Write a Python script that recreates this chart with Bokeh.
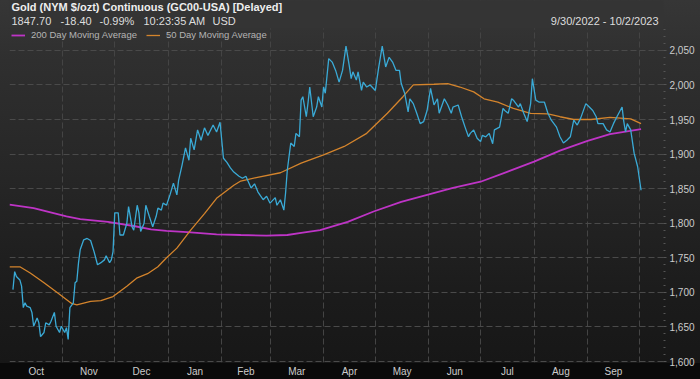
import pandas as pd
from bokeh.plotting import figure
from bokeh.models import (Range1d, NumeralTickFormatter, FixedTicker, BoxAnnotation,
                          MonthsTicker, DatetimeTickFormatter, Label, GlobalInlineStyleSheet)
from bokeh.embed import file_html
from bokeh.resources import INLINE

# ---------------- data ----------------
gold_dates = [
    "2022-10-03", "2022-10-04", "2022-10-05", "2022-10-07", "2022-10-08", "2022-10-09", "2022-10-10",
    "2022-10-11", "2022-10-13", "2022-10-14", "2022-10-15", "2022-10-17", "2022-10-18", "2022-10-19",
    "2022-10-21", "2022-10-22", "2022-10-24", "2022-10-25", "2022-10-27", "2022-10-28", "2022-10-30",
    "2022-10-31", "2022-11-02", "2022-11-03", "2022-11-04", "2022-11-05", "2022-11-07", "2022-11-08",
    "2022-11-09", "2022-11-10", "2022-11-11", "2022-11-13", "2022-11-15", "2022-11-17", "2022-11-19",
    "2022-11-21", "2022-11-23", "2022-11-25", "2022-11-26", "2022-11-28", "2022-11-29", "2022-11-30",
    "2022-12-01", "2022-12-03", "2022-12-04", "2022-12-06", "2022-12-08", "2022-12-09", "2022-12-11",
    "2022-12-12", "2022-12-14", "2022-12-15", "2022-12-16", "2022-12-18", "2022-12-19", "2022-12-21",
    "2022-12-23", "2022-12-25", "2022-12-26", "2022-12-28", "2022-12-29", "2022-12-31", "2023-01-02",
    "2023-01-04", "2023-01-06", "2023-01-07", "2023-01-09", "2023-01-11", "2023-01-13", "2023-01-14",
    "2023-01-16", "2023-01-18", "2023-01-20", "2023-01-22", "2023-01-24", "2023-01-27", "2023-01-29",
    "2023-01-31", "2023-02-02", "2023-02-04", "2023-02-06", "2023-02-08", "2023-02-11", "2023-02-13",
    "2023-02-15", "2023-02-18", "2023-02-20", "2023-02-22", "2023-02-25", "2023-02-27", "2023-03-01",
    "2023-03-04", "2023-03-05", "2023-03-07", "2023-03-09", "2023-03-10", "2023-03-11", "2023-03-13",
    "2023-03-15", "2023-03-16", "2023-03-18", "2023-03-19", "2023-03-20", "2023-03-22", "2023-03-23",
    "2023-03-24", "2023-03-26", "2023-03-28", "2023-03-29", "2023-03-31", "2023-04-01", "2023-04-02",
    "2023-04-04", "2023-04-06", "2023-04-08", "2023-04-10", "2023-04-12", "2023-04-14", "2023-04-16",
    "2023-04-17", "2023-04-18", "2023-04-20", "2023-04-21", "2023-04-23", "2023-04-24", "2023-04-26",
    "2023-04-28", "2023-05-01", "2023-05-03", "2023-05-05", "2023-05-07", "2023-05-09", "2023-05-11",
    "2023-05-13", "2023-05-15", "2023-05-16", "2023-05-18", "2023-05-20", "2023-05-21", "2023-05-23",
    "2023-05-25", "2023-05-27", "2023-05-29", "2023-05-31", "2023-06-02", "2023-06-04", "2023-06-06",
    "2023-06-07", "2023-06-10", "2023-06-12", "2023-06-14", "2023-06-15", "2023-06-18", "2023-06-20",
    "2023-06-22", "2023-06-24", "2023-06-25", "2023-06-27", "2023-06-29", "2023-07-01", "2023-07-02",
    "2023-07-04", "2023-07-06", "2023-07-08", "2023-07-09", "2023-07-12", "2023-07-14", "2023-07-15",
    "2023-07-17", "2023-07-19", "2023-07-20", "2023-07-23", "2023-07-24", "2023-07-26", "2023-07-28",
    "2023-07-30", "2023-07-31", "2023-08-02", "2023-08-04", "2023-08-07", "2023-08-09", "2023-08-11",
    "2023-08-14", "2023-08-16", "2023-08-18", "2023-08-20", "2023-08-22", "2023-08-24", "2023-08-26",
    "2023-08-28", "2023-08-31", "2023-09-02", "2023-09-04", "2023-09-06", "2023-09-07", "2023-09-10",
    "2023-09-12", "2023-09-14", "2023-09-16", "2023-09-18", "2023-09-21", "2023-09-22", "2023-09-23",
    "2023-09-24", "2023-09-26", "2023-09-28", "2023-09-30", "2023-10-02",
]
gold_close = [
    1704, 1730, 1723, 1718, 1709, 1678, 1685, 1680, 1678, 1671, 1651, 1663, 1656, 1636,
    1642, 1656, 1653, 1658, 1671, 1651, 1642, 1651, 1642, 1649, 1632, 1678, 1685, 1714,
    1716, 1743, 1762, 1776, 1778, 1775, 1759, 1740, 1743, 1747, 1753, 1743, 1747, 1759,
    1815, 1815, 1783, 1783, 1800, 1824, 1795, 1790, 1826, 1815, 1788, 1800, 1826, 1810,
    1795, 1810, 1822, 1819, 1829, 1826, 1841, 1858, 1841, 1862, 1884, 1909, 1891, 1923,
    1906, 1935, 1920, 1938, 1927, 1942, 1932, 1946, 1894, 1888, 1880, 1874, 1868, 1865,
    1868, 1851, 1857, 1845, 1834, 1839, 1829, 1837, 1826, 1834, 1819, 1844, 1877, 1916,
    1911, 1930, 1925, 1978, 1983, 1954, 1974, 1997, 1954, 1968, 1983, 1968, 1997, 1988,
    2038, 2033, 2021, 2004, 2021, 2056, 2026, 2009, 2019, 2007, 2019, 1992, 2004, 1997,
    2000, 1992, 2026, 2056, 2026, 2040, 2033, 2021, 2021, 2002, 1988, 1961, 1980, 1973,
    1959, 1944, 1947, 1963, 1995, 1971, 1980, 1959, 1980, 1971, 1959, 1968, 1971, 1954,
    1939, 1925, 1930, 1935, 1923, 1918, 1927, 1925, 1930, 1915, 1935, 1939, 1966, 1963,
    1959, 1980, 1978, 1968, 1973, 1959, 1947, 1973, 2009, 1978, 1975, 1975, 1959, 1949,
    1939, 1925, 1916, 1920, 1925, 1949, 1942, 1952, 1973, 1968, 1963, 1954, 1944, 1944,
    1935, 1932, 1944, 1954, 1968, 1947, 1932, 1944, 1935, 1901, 1882, 1847.70,
]

ma200_dates = [
    "2022-10-01", "2022-10-15", "2022-11-03", "2022-11-11", "2022-11-27", "2022-12-12", "2022-12-22",
    "2022-12-31", "2023-01-12", "2023-01-29", "2023-02-12", "2023-02-27", "2023-03-11", "2023-03-19",
    "2023-03-30", "2023-04-15", "2023-04-30", "2023-05-16", "2023-05-31", "2023-06-15", "2023-07-01",
    "2023-07-16", "2023-08-01", "2023-08-16", "2023-09-01", "2023-09-14", "2023-10-02",
]
ma200_values = [
    1827, 1822, 1810, 1806, 1802, 1796, 1791, 1789, 1787, 1784, 1783, 1782, 1783, 1786,
    1790, 1802, 1817, 1831, 1841, 1851, 1860, 1874, 1889, 1905, 1919, 1929, 1936,
]

ma50_dates = [
    "2022-10-01", "2022-10-07", "2022-10-13", "2022-10-21", "2022-10-29", "2022-11-06", "2022-11-09",
    "2022-11-17", "2022-11-23", "2022-11-30", "2022-12-08", "2022-12-14", "2022-12-20", "2022-12-26",
    "2022-12-31", "2023-01-06", "2023-01-14", "2023-01-22", "2023-01-29", "2023-02-08", "2023-02-12",
    "2023-02-21", "2023-03-07", "2023-03-19", "2023-04-01", "2023-04-13", "2023-04-26", "2023-05-08",
    "2023-05-17", "2023-05-23", "2023-06-04", "2023-06-12", "2023-06-19", "2023-06-27", "2023-07-03",
    "2023-07-11", "2023-07-20", "2023-07-30", "2023-08-09", "2023-08-16", "2023-08-24", "2023-09-03",
    "2023-09-14", "2023-09-26", "2023-10-02",
]
ma50_values = [
    1737, 1737, 1728, 1714, 1699, 1684, 1682, 1687, 1688, 1694, 1709, 1721, 1727, 1737,
    1750, 1764, 1790, 1814, 1836, 1855, 1861, 1866, 1873, 1887, 1899, 1911, 1930, 1959,
    1983, 2000, 2001, 2002, 1997, 1990, 1980, 1975, 1966, 1959, 1958, 1954, 1950, 1950,
    1953, 1951, 1944,
]

y_tick_values = [1600, 1650, 1700, 1750, 1800, 1850, 1900, 1950, 2000, 2050]
y_minor_values = list(range(1600, 2081, 10))

title_text = "Gold (NYM $/ozt) Continuous (GC00-USA) [Delayed]"
quote_parts = ["1847.70", "-18.40", "-0.99%", "10:23:35 AM", "USD"]
date_span = "9/30/2022 - 10/2/2023"
legend_names = ["200 Day Moving Average", "50 Day Moving Average"]

# ---------------- figure ----------------
FONT = "Liberation Sans"
x_start, x_end = pd.Timestamp("2022-10-01"), pd.Timestamp("2023-10-15")
Y_LO, Y_HI = 1598.6, 2122.1      # frame spans the whole height (header drawn inside)
HEADER_FLOOR = 2081.7            # value at the top of the chart area

p = figure(width=700, height=379, x_axis_type="datetime", y_axis_location="right",
           x_range=Range1d(x_start, x_end), y_range=Range1d(Y_LO, Y_HI),
           output_backend="svg", toolbar_location=None,
           min_border_left=9, min_border_right=37, min_border_top=0, min_border_bottom=16)

p.background_fill_alpha = 0
p.border_fill_alpha = 0
p.outline_line_color = None
p.styles = {"background": "linear-gradient(to bottom, #363636 0px, #333333 28px, #2f2f2f 60px, "
                          "#262626 180px, #1b1b1b 300px, #171717 363px, #0a0a0a 363px, #0a0a0a 379px)"}
p.stylesheets = [GlobalInlineStyleSheet(css="html, body { margin: 0; padding: 0; background: #111111; overflow: hidden; }")]

# y axis (right)
yax = p.yaxis[0]
yax.ticker = FixedTicker(ticks=y_tick_values, minor_ticks=y_minor_values)
yax.formatter = NumeralTickFormatter(format="0,0")
yax.axis_line_color = None
yax.major_tick_line_color = "#555555"
yax.minor_tick_line_color = "#555555"
yax.major_tick_out = 3
yax.major_tick_in = 0
yax.minor_tick_out = 2
yax.minor_tick_in = 0
yax.major_label_standoff = 3
yax.major_label_text_color = "#cccccc"
yax.major_label_text_font = FONT
yax.major_label_text_font_size = "10px"

# grids
p.ygrid.grid_line_color = "#4a4a4a"
p.ygrid.grid_line_dash = "6 3"
p.xgrid.ticker = MonthsTicker(months=list(range(12)))
p.xgrid.grid_line_color = "#444444"
p.xgrid.grid_line_dash = "6 3"

# x axis: labels at mid-month
starts = pd.date_range("2022-10-01", "2023-10-01", freq="MS")
mids = [(a.value + b.value) / 2 / 1e6 for a, b in zip(starts[:-1], starts[1:])]
xax = p.xaxis[0]
xax.ticker = FixedTicker(ticks=mids)
xax.formatter = DatetimeTickFormatter(days="%b", months="%b", years="%b", hours="%b")
xax.axis_line_color = None
xax.major_tick_line_color = None
xax.minor_tick_line_color = None
xax.major_tick_out = 0
xax.major_tick_in = 0
xax.minor_tick_out = 0
xax.minor_tick_in = 0
xax.major_label_standoff = 3
xax.major_label_text_color = "#cccccc"
xax.major_label_text_font = FONT
xax.major_label_text_font_size = "10px"

# lines
p.line(pd.to_datetime(ma200_dates), ma200_values, color="#be34c6", line_width=1.8,
       legend_label=legend_names[0])
p.line(pd.to_datetime(ma50_dates), ma50_values, color="#d4842c", line_width=1.3,
       legend_label=legend_names[1])
p.line(pd.to_datetime(gold_dates), gold_close, color="#3aaad6", line_width=1.3)

leg = p.legend[0]
leg.orientation = "horizontal"
leg.location = (2, 322)
leg.margin = 0
leg.padding = 0
leg.spacing = 9
leg.glyph_width = 14
leg.glyph_height = 10
leg.label_height = 10
leg.label_standoff = 6
leg.background_fill_alpha = 0
leg.border_line_alpha = 0
leg.label_text_color = "#b4b4b4"
leg.label_text_font = FONT
leg.label_text_font_size = "9.5px"

# header band (covers grid lines above the chart area)
p.add_layout(BoxAnnotation(bottom=HEADER_FLOOR, fill_color="#343434", fill_alpha=1.0,
                           line_alpha=0))

# header texts (screen units, from the frame's bottom-left)
p.add_layout(Label(x=2, y=356, x_units="screen", y_units="screen", text=title_text,
                   text_font=FONT, text_font_size="11px", text_font_style="bold",
                   text_color="#eeeeee", text_baseline="middle"))
quote_x = [2, 51, 90, 134, 203]
for tx, qx in zip(quote_parts, quote_x):
    p.add_layout(Label(x=qx, y=342, x_units="screen", y_units="screen", text=tx,
                       text_font=FONT, text_font_size="11px", text_color="#dddddd",
                       text_baseline="middle"))
p.add_layout(Label(x=649, y=342, x_units="screen", y_units="screen", text=date_span,
                   text_font=FONT, text_font_size="11px", text_color="#dddddd",
                   text_baseline="middle", text_align="right"))

open("out.html", "w").write(file_html(p, INLINE))
